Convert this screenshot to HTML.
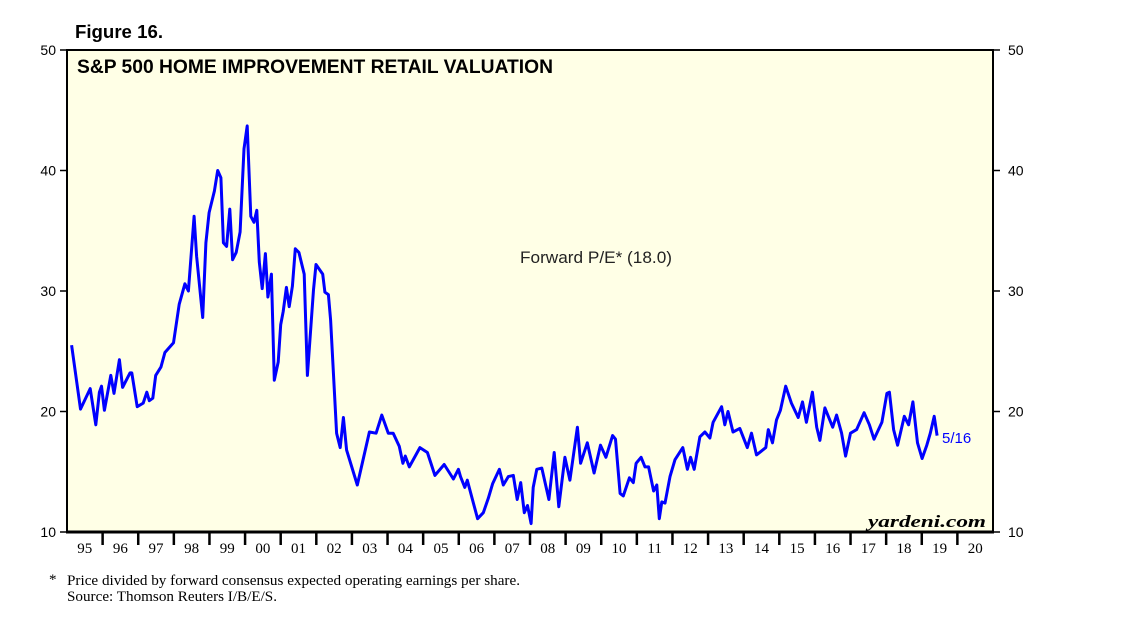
<!DOCTYPE html>
<html><head><meta charset="utf-8"><style>
body{margin:0;background:#fff;}
svg{display:block;}
</style></head><body>
<svg width="1138" height="621" xmlns="http://www.w3.org/2000/svg">
<text x="75" y="38" font-family="Liberation Sans, sans-serif" font-weight="bold" font-size="18" textLength="88" lengthAdjust="spacingAndGlyphs">Figure 16.</text>
<rect x="67" y="50" width="926" height="482" fill="#ffffe6" stroke="#000" stroke-width="2"/>
<line x1="66" x2="994" y1="532" y2="532" stroke="#000" stroke-width="3"/>
<text x="77" y="73" font-family="Liberation Sans, sans-serif" font-weight="bold" font-size="19" textLength="476" lengthAdjust="spacingAndGlyphs">S&amp;P 500 HOME IMPROVEMENT RETAIL VALUATION</text>
<text x="520" y="263" font-family="Liberation Sans, sans-serif" font-size="17" fill="#222" textLength="152" lengthAdjust="spacingAndGlyphs">Forward P/E* (18.0)</text>
<text x="986" y="527" text-anchor="end" font-family="Liberation Serif, serif" font-style="italic" font-weight="bold" font-size="17" textLength="118" lengthAdjust="spacingAndGlyphs">yardeni.com</text>
<g id="axes"></g>
<g id="series"></g>
<text x="942" y="443" font-family="Liberation Sans, sans-serif" font-size="15" fill="#0000ff">5/16</text>
<text x="49" y="584" font-family="Liberation Serif, serif" font-size="15">*</text>
<text x="67" y="585" font-family="Liberation Serif, serif" font-size="15" textLength="453" lengthAdjust="spacingAndGlyphs">Price divided by forward consensus expected operating earnings per share.</text>
<text x="67" y="601" font-family="Liberation Serif, serif" font-size="15" textLength="210" lengthAdjust="spacingAndGlyphs">Source: Thomson Reuters I/B/E/S.</text>
</svg>
<script>
const yTicks=[10,20,30,40,50];
const yearLabels=["95","96","97","98","99","00","01","02","03","04","05","06","07","08","09","10","11","12","13","14","15","16","17","18","19","20"];
const years=[1995.13,1995.38,1995.65,1995.81,1995.91,1995.97,1996.05,1996.23,1996.32,1996.47,1996.56,1996.77,1996.82,1996.97,1997.14,1997.24,1997.31,1997.41,1997.49,1997.64,1997.75,1997.99,1998.15,1998.31,1998.41,1998.57,1998.64,1998.81,1998.90,1998.99,1999.14,1999.23,1999.32,1999.39,1999.48,1999.57,1999.65,1999.75,1999.86,1999.97,2000.06,2000.16,2000.25,2000.33,2000.40,2000.48,2000.57,2000.64,2000.74,2000.82,2000.93,2001.00,2001.07,2001.16,2001.24,2001.33,2001.41,2001.51,2001.66,2001.75,2001.92,2001.99,2002.18,2002.24,2002.34,2002.40,2002.57,2002.67,2002.76,2002.85,2003.15,2003.49,2003.68,2003.84,2004.02,2004.16,2004.33,2004.43,2004.50,2004.61,2004.91,2005.12,2005.33,2005.59,2005.85,2005.99,2006.05,2006.17,2006.24,2006.41,2006.53,2006.69,2006.83,2006.95,2007.14,2007.25,2007.39,2007.53,2007.64,2007.74,2007.84,2007.93,2008.03,2008.09,2008.19,2008.33,2008.53,2008.68,2008.81,2008.98,2009.12,2009.33,2009.42,2009.61,2009.80,2009.98,2010.13,2010.32,2010.40,2010.53,2010.62,2010.79,2010.90,2010.98,2011.12,2011.23,2011.33,2011.47,2011.56,2011.63,2011.70,2011.79,2011.93,2012.07,2012.29,2012.42,2012.51,2012.61,2012.77,2012.91,2013.05,2013.14,2013.38,2013.47,2013.56,2013.70,2013.89,2014.10,2014.22,2014.36,2014.62,2014.69,2014.81,2014.92,2015.03,2015.18,2015.34,2015.53,2015.65,2015.76,2015.93,2016.05,2016.14,2016.28,2016.50,2016.61,2016.75,2016.86,2017.00,2017.17,2017.38,2017.53,2017.66,2017.88,2018.02,2018.09,2018.21,2018.32,2018.51,2018.63,2018.75,2018.88,2019.01,2019.14,2019.24,2019.35,2019.43];
const peValues=[25.5,20.2,21.9,18.9,21.6,22.1,20.1,23.0,21.5,24.3,22.0,23.2,23.2,20.4,20.7,21.6,20.9,21.1,23.0,23.7,24.9,25.7,28.9,30.6,30.0,36.2,32.9,27.8,34.0,36.5,38.3,40.0,39.4,34.0,33.7,36.8,32.6,33.2,34.9,41.8,43.7,36.2,35.7,36.7,32.4,30.2,33.1,29.5,31.4,22.6,24.1,27.2,28.3,30.3,28.7,30.4,33.5,33.2,31.4,23.0,30.1,32.2,31.4,29.9,29.7,27.6,18.2,17.0,19.5,16.8,13.9,18.3,18.2,19.7,18.2,18.2,17.1,15.7,16.3,15.4,17.0,16.6,14.7,15.6,14.4,15.2,14.6,13.7,14.3,12.4,11.1,11.6,12.8,14.0,15.2,13.9,14.6,14.7,12.7,14.1,11.6,12.2,10.7,13.7,15.2,15.3,12.7,16.6,12.1,16.2,14.3,18.7,15.7,17.4,14.9,17.2,16.2,18.0,17.7,13.2,13.0,14.5,14.1,15.7,16.2,15.4,15.4,13.4,13.9,11.1,12.5,12.4,14.6,16.0,17.0,15.2,16.2,15.2,17.9,18.3,17.8,19.1,20.4,18.9,20.0,18.3,18.6,17.0,18.2,16.4,17.0,18.5,17.4,19.3,20.1,22.1,20.7,19.5,20.8,19.1,21.6,18.7,17.6,20.3,18.7,19.7,18.2,16.3,18.2,18.5,19.9,18.9,17.7,19.1,21.5,21.6,18.5,17.2,19.6,18.9,20.8,17.4,16.1,17.2,18.2,19.6,18.0];
const NS="http://www.w3.org/2000/svg";
const X0=67,X1=993,Y0=532,Y1=50;
function xs(yr){return X0+(yr-1995)/26*(X1-X0);}
function ys(v){return Y0-(v-10)/40*(Y0-Y1);}
const axes=document.getElementById('axes');
function mk(tag,attrs,parent){const e=document.createElementNS(NS,tag);for(const k in attrs)e.setAttribute(k,attrs[k]);parent.appendChild(e);return e;}
yTicks.forEach(v=>{
  const y=ys(v);
  const t1=mk('line',{x1:60,x2:67,y1:y,y2:y,stroke:'#000','stroke-width':1.5},axes);
  
  
  const t2=mk('line',{x1:993,x2:1000,y1:y,y2:y,stroke:'#000','stroke-width':1.5},axes);
  
  
  const l1=mk('text',{x:56,y:y+5,'text-anchor':'end','font-family':'Liberation Sans, sans-serif','font-size':14},axes);
  l1.textContent=v;
  
  
  const l2=mk('text',{x:1008,y:y+5,'font-family':'Liberation Sans, sans-serif','font-size':14},axes);
  l2.textContent=v;
  
  
});
yearLabels.forEach((lab,i)=>{
  const xa=xs(1995+i), xb=xs(1996+i);
  if(i>0){
    const t=mk('line',{x1:xa,x2:xa,y1:532,y2:545,stroke:'#000','stroke-width':2.5},axes);
    
    
  }
  const l=mk('text',{x:(xa+xb)/2,y:553,'text-anchor':'middle','font-family':'Liberation Serif, serif','font-size':15},axes);
  l.textContent=lab;
  
  
});
const s=document.getElementById('series');
const d=years.map((yr,i)=>(i?'L':'M')+xs(yr).toFixed(1)+','+ys(peValues[i]).toFixed(1)).join(' ');
const p=mk('path',{d:d,fill:'none',stroke:'#0000ff','stroke-width':3,'stroke-linejoin':'round'},s);


</script>
</body></html>
